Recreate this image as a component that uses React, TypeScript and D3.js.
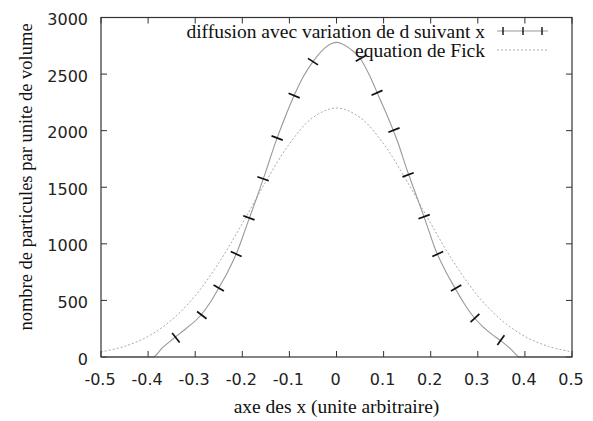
import { useEffect, useRef } from "react";
import * as d3 from "d3";

// courbe "diffusion avec variation de d suivant x"
const diffX = [-0.5, -0.45, -0.39, -0.37, -0.35, -0.32, -0.29, -0.27, -0.25, -0.23, -0.21, -0.19, -0.17, -0.15, -0.13, -0.11, -0.09, -0.07, -0.05, -0.03, -0.01, 0, 0.01, 0.03, 0.05, 0.07, 0.09, 0.11, 0.13, 0.15, 0.17, 0.19, 0.21, 0.23, 0.25, 0.27, 0.29, 0.31, 0.33, 0.35, 0.37, 0.39, 0.45, 0.5];
const diffY = [0, 0, 0, 80, 150, 250, 360, 470, 610, 760, 940, 1170, 1400, 1640, 1890, 2110, 2310, 2480, 2610, 2710, 2770, 2780, 2770, 2720, 2640, 2490, 2300, 2110, 1900, 1650, 1420, 1190, 950, 770, 620, 480, 360, 270, 200, 140, 70, 0, 0, 0];

// marques sur la courbe
const markX = [-0.341, -0.286, -0.25, -0.213, -0.186, -0.156, -0.126, -0.09, -0.05, 0.052, 0.086, 0.122, 0.152, 0.186, 0.215, 0.254, 0.294, 0.349];
const markY = [170, 370, 610, 910, 1230, 1575, 1935, 2310, 2610, 2640, 2335, 2005, 1610, 1240, 910, 610, 345, 150];

// "equation de Fick"
const fickX = [-0.5, -0.45, -0.4, -0.35, -0.3, -0.25, -0.2, -0.15, -0.1, -0.05, 0, 0.05, 0.1, 0.15, 0.2, 0.25, 0.3, 0.35, 0.4, 0.45, 0.5];
const fickY = [45, 94, 182, 327, 541, 831, 1180, 1550, 1883, 2116, 2200, 2116, 1883, 1550, 1180, 831, 541, 327, 182, 94, 45];

const xTicks = [-0.5, -0.4, -0.3, -0.2, -0.1, 0, 0.1, 0.2, 0.3, 0.4, 0.5];
const yTicks = [0, 500, 1000, 1500, 2000, 2500, 3000];

const W = 593;
const H = 421;
const m = { left: 101, right: 21, top: 17.5, bottom: 64 };

export default function App() {
  const ref = useRef<SVGSVGElement>(null);

  useEffect(() => {
    const svg = d3.select(ref.current);
    svg.selectAll("*").remove();

    const x = d3.scaleLinear().domain([-0.5, 0.5]).range([m.left, W - m.right]);
    const y = d3.scaleLinear().domain([0, 3000]).range([H - m.bottom, m.top]);
    const x0 = m.left, x1 = W - m.right, y0 = H - m.bottom, y1 = m.top;
    const tickFont = "'DejaVu Sans', sans-serif";
    const serif = "'Liberation Serif', serif";

    // ticks (in, mirrored)
    const tk = 6;
    xTicks.forEach(v => {
      svg.append("line").attr("x1", x(v)).attr("x2", x(v)).attr("y1", y0).attr("y2", y0 - tk).attr("stroke", "#333");
      svg.append("line").attr("x1", x(v)).attr("x2", x(v)).attr("y1", y1).attr("y2", y1 + tk).attr("stroke", "#333");
      svg.append("text").attr("x", x(v) - 1).attr("y", y0 + 28).attr("text-anchor", "middle")
        .attr("font-family", tickFont).attr("font-size", 16).attr("fill", "#222").text(String(v));
    });
    yTicks.forEach(v => {
      svg.append("line").attr("x1", x0).attr("x2", x0 + tk).attr("y1", y(v)).attr("y2", y(v)).attr("stroke", "#333");
      svg.append("line").attr("x1", x1).attr("x2", x1 - tk).attr("y1", y(v)).attr("y2", y(v)).attr("stroke", "#333");
      svg.append("text").attr("x", x0 - 13).attr("y", y(v) + 7.5).attr("text-anchor", "end")
        .attr("font-family", tickFont).attr("font-size", 16).attr("fill", "#222").text(String(v));
    });

    // Fick
    const fick = fickX.map((v, i) => [v, fickY[i]] as [number, number]);
    svg.append("path").datum(fick)
      .attr("d", d3.line<[number, number]>().x(d => x(d[0])).y(d => y(d[1])).curve(d3.curveCatmullRom))
      .attr("fill", "none").attr("stroke", "#aaa").attr("stroke-width", 1).attr("stroke-dasharray", "2,2");

    // diffusion
    const diff = diffX.map((v, i) => [v, diffY[i]] as [number, number]);
    svg.append("path").datum(diff)
      .attr("d", d3.line<[number, number]>().x(d => x(d[0])).y(d => y(d[1])).curve(d3.curveMonotoneX))
      .attr("fill", "none").attr("stroke", "#999").attr("stroke-width", 1.1);

    // marks perpendicular to the curve
    const ml = 6;
    markX.forEach((v, i) => {
      let j = d3.bisectLeft(diffX, v);
      j = Math.max(1, Math.min(diffX.length - 1, j));
      const dx = x(diffX[j]) - x(diffX[j - 1]);
      const dy = y(diffY[j]) - y(diffY[j - 1]);
      const len = Math.hypot(dx, dy);
      const nx = -dy / len, ny = dx / len;
      const cx = x(v), cy = y(markY[i]);
      svg.append("line").attr("x1", cx - nx * ml).attr("y1", cy - ny * ml)
        .attr("x2", cx + nx * ml).attr("y2", cy + ny * ml)
        .attr("stroke", "#111").attr("stroke-width", 1.7);
    });

    // frame
    svg.append("rect").attr("x", x0).attr("y", y1).attr("width", x1 - x0).attr("height", y0 - y1)
      .attr("fill", "none").attr("stroke", "#333").attr("stroke-width", 1.2);

    // legend
    const lx = 485, ls0 = 497, ls1 = 548;
    svg.append("text").attr("x", lx).attr("y", 38).attr("text-anchor", "end")
      .attr("font-family", serif).attr("font-size", 19.5).attr("fill", "#111")
      .text("diffusion avec variation de d suivant x");
    svg.append("line").attr("x1", ls0).attr("x2", ls1).attr("y1", 31).attr("y2", 31).attr("stroke", "#999");
    [503, 523, 542].forEach(p => {
      svg.append("line").attr("x1", p).attr("x2", p).attr("y1", 27).attr("y2", 35).attr("stroke", "#111").attr("stroke-width", 1.4);
    });
    svg.append("text").attr("x", lx).attr("y", 57).attr("text-anchor", "end")
      .attr("font-family", serif).attr("font-size", 19.5).attr("fill", "#111")
      .text("equation de Fick");
    svg.append("line").attr("x1", ls0).attr("x2", ls1).attr("y1", 50).attr("y2", 50)
      .attr("stroke", "#aaa").attr("stroke-dasharray", "2,2");

    // axis titles
    svg.append("text").attr("x", (x0 + x1) / 2).attr("y", 413).attr("text-anchor", "middle")
      .attr("font-family", serif).attr("font-size", 19.5).attr("fill", "#111")
      .text("axe des x (unite arbitraire)");
    svg.append("text").attr("transform", `translate(32,177) rotate(-90)`).attr("text-anchor", "middle")
      .attr("font-family", serif).attr("font-size", 18.5).attr("fill", "#111")
      .text("nombre de particules par unite de volume");
  }, []);

  return (
    <svg ref={ref} width={W} height={H}
      style={{ position: "absolute", left: 0, top: 0, background: "#fff" }} />
  );
}
